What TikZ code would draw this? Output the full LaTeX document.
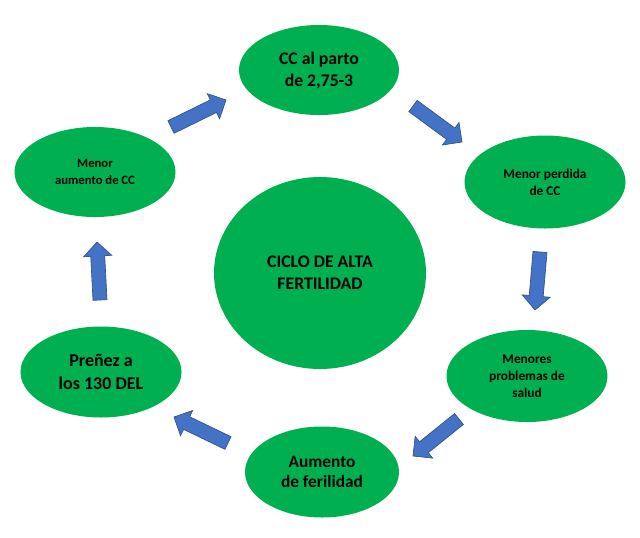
\documentclass[tikz,border=0pt]{standalone}
\usepackage{fontspec}
\setmainfont{Carlito}
\usepackage{xcolor}
\usepackage{tikz}
\usetikzlibrary{positioning, shapes.geometric, calc}

\definecolor{cyclegreen}{HTML}{00B050}
\definecolor{arrowblue}{HTML}{4472C4}
\definecolor{arrowedge}{HTML}{2F528F}

\tikzset{
  stage/.style={ellipse, fill=cyclegreen, inner sep=0pt, align=center,
    minimum width=120.75pt, minimum height=68.25pt},
  bigtext/.style={font=\bfseries\fontsize{13.3}{16.5}\selectfont},
  smalltext/.style={font=\bfseries\fontsize{10}{12.6}\selectfont},
  blockarrow/.style={fill=arrowblue, draw=arrowedge, line width=0.5pt},
}

% block arrow from tail #1 to tip #2
\newcommand{\cyclearrow}[2]{%
  \coordinate (hb) at ($(#2)!10.5pt!(#1)$);
  \filldraw[blockarrow] ($(#1)!5.25pt!90:(#2)$) -- ($(hb)!5.25pt!90:(#2)$)
    -- ($(hb)!10.5pt!90:(#2)$) -- (#2) -- ($(hb)!10.5pt!-90:(#2)$)
    -- ($(hb)!5.25pt!-90:(#2)$) -- ($(#1)!5.25pt!-90:(#2)$) -- cycle;
}

\begin{document}
\begin{tikzpicture}[x=0.75pt, y=-0.75pt]
    \useasboundingbox (0,0) rectangle (640,537);

    % stages of the cycle
    \node[stage, bigtext, minimum width=120pt, minimum height=67.5pt] (parto) at (319,70) {CC al parto\\de 2,75-3};
    \node[stage, smalltext, minimum height=69.75pt] (perdida) at (545,182) {Menor perdida\\de CC};
    \node[stage, smalltext, minimum height=69pt] (salud) at (527,376) {Menores\\problemas de\\salud};
    \node[stage, bigtext, font=\bfseries\fontsize{13}{15.2}\selectfont, minimum width=115.5pt] (fertil) at (322,472) {Aumento\\de ferilidad};
    \node[stage, bigtext, font=\bfseries\fontsize{13.5}{17}\selectfont] (prenez) at (101,372) {Preñez a\\los 130 DEL};
    \node[stage, smalltext, font=\bfseries\fontsize{9.5}{12.6}\selectfont, minimum height=67.5pt] (aumento) at (95,172) {Menor\\aumento de CC};

    % centre
    \node[stage, bigtext, minimum width=159pt, minimum height=144pt] (ciclo) at (320,273) {CICLO DE ALTA\\FERTILIDAD};

    % arrows between the stages
    \coordinate (a1t) at (171,127); \coordinate (a1h) at (226,100);
    \coordinate (a2t) at (413,106); \coordinate (a2h) at (462,142);
    \coordinate (a3t) at (540,252); \coordinate (a3h) at (535,310);
    \coordinate (a4t) at (459,419); \coordinate (a4h) at (413,456);
    \coordinate (a5t) at (228,443); \coordinate (a5h) at (174,417);
    \coordinate (a6t) at (100,300); \coordinate (a6h) at (97,242);

    \cyclearrow{a1t}{a1h}
    \cyclearrow{a2t}{a2h}
    \cyclearrow{a3t}{a3h}
    \cyclearrow{a4t}{a4h}
    \cyclearrow{a5t}{a5h}
    \cyclearrow{a6t}{a6h}
\end{tikzpicture}
\end{document}
